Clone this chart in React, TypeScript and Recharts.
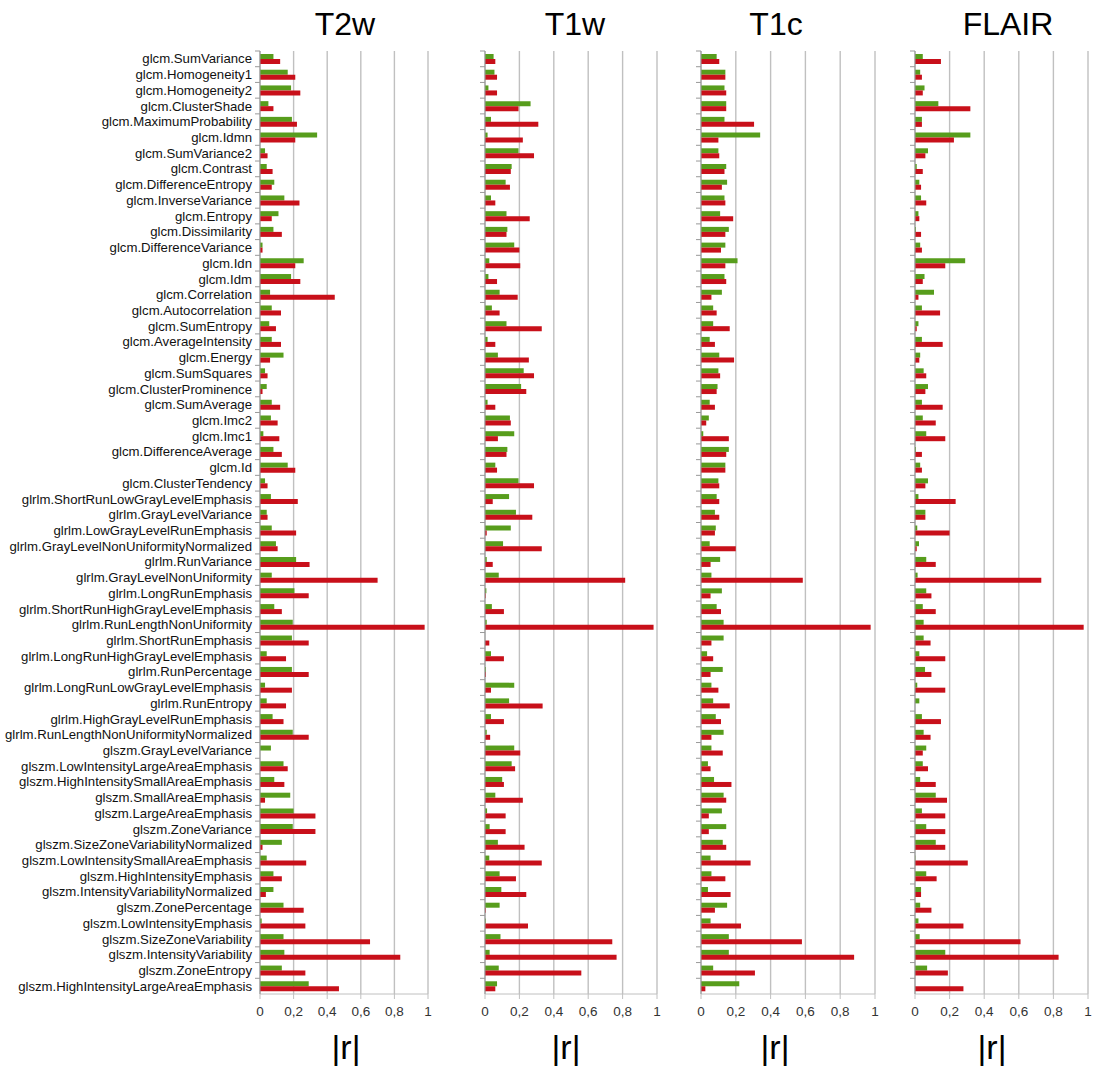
import { BarChart, Bar, XAxis, YAxis, CartesianGrid } from "recharts";

const categories = [
  "glcm.SumVariance", "glcm.Homogeneity1", "glcm.Homogeneity2", "glcm.ClusterShade",
  "glcm.MaximumProbability", "glcm.Idmn", "glcm.SumVariance2", "glcm.Contrast",
  "glcm.DifferenceEntropy", "glcm.InverseVariance", "glcm.Entropy", "glcm.Dissimilarity",
  "glcm.DifferenceVariance", "glcm.Idn", "glcm.Idm", "glcm.Correlation",
  "glcm.Autocorrelation", "glcm.SumEntropy", "glcm.AverageIntensity", "glcm.Energy",
  "glcm.SumSquares", "glcm.ClusterProminence", "glcm.SumAverage", "glcm.Imc2",
  "glcm.Imc1", "glcm.DifferenceAverage", "glcm.Id", "glcm.ClusterTendency",
  "glrlm.ShortRunLowGrayLevelEmphasis", "glrlm.GrayLevelVariance", "glrlm.LowGrayLevelRunEmphasis",
  "glrlm.GrayLevelNonUniformityNormalized", "glrlm.RunVariance", "glrlm.GrayLevelNonUniformity",
  "glrlm.LongRunEmphasis", "glrlm.ShortRunHighGrayLevelEmphasis", "glrlm.RunLengthNonUniformity",
  "glrlm.ShortRunEmphasis", "glrlm.LongRunHighGrayLevelEmphasis", "glrlm.RunPercentage",
  "glrlm.LongRunLowGrayLevelEmphasis", "glrlm.RunEntropy", "glrlm.HighGrayLevelRunEmphasis",
  "glrlm.RunLengthNonUniformityNormalized", "glszm.GrayLevelVariance", "glszm.LowIntensityLargeAreaEmphasis",
  "glszm.HighIntensitySmallAreaEmphasis", "glszm.SmallAreaEmphasis", "glszm.LargeAreaEmphasis",
  "glszm.ZoneVariance", "glszm.SizeZoneVariabilityNormalized", "glszm.LowIntensitySmallAreaEmphasis",
  "glszm.HighIntensityEmphasis", "glszm.IntensityVariabilityNormalized", "glszm.ZonePercentage",
  "glszm.LowIntensityEmphasis", "glszm.SizeZoneVariability", "glszm.IntensityVariability",
  "glszm.ZoneEntropy", "glszm.HighIntensityLargeAreaEmphasis",
];

const t2wGreen = [
  0.08, 0.165, 0.185, 0.05, 0.19, 0.34, 0.03, 0.04, 0.085, 0.145, 0.11, 0.08, 0.015, 0.26, 0.185, 0.06, 0.07, 0.055, 0.07, 0.14,
  0.03, 0.04, 0.07, 0.065, 0.02, 0.08, 0.165, 0.03, 0.065, 0.04, 0.07, 0.095, 0.215, 0.07, 0.205, 0.085, 0.195, 0.19, 0.04, 0.19,
  0.03, 0.04, 0.075, 0.195, 0.065, 0.14, 0.085, 0.18, 0.2, 0.195, 0.13, 0.04, 0.08, 0.08, 0.14, 0.01, 0.14, 0.145, 0.13, 0.29,
];
const t2wRed = [
  0.12, 0.21, 0.24, 0.08, 0.22, 0.21, 0.045, 0.075, 0.07, 0.235, 0.07, 0.13, 0.015, 0.21, 0.24, 0.445, 0.125, 0.095, 0.125, 0.06,
  0.045, 0.015, 0.12, 0.105, 0.115, 0.13, 0.21, 0.045, 0.225, 0.045, 0.215, 0.105, 0.295, 0.7, 0.29, 0.13, 0.98, 0.29, 0.155, 0.29,
  0.19, 0.155, 0.14, 0.29, 0, 0.165, 0.145, 0.03, 0.33, 0.33, 0.015, 0.275, 0.13, 0.035, 0.26, 0.27, 0.655, 0.835, 0.27, 0.47,
];

const t1wGreen = [
  0.05, 0.055, 0.02, 0.265, 0.035, 0.015, 0.195, 0.155, 0.12, 0.035, 0.125, 0.13, 0.17, 0.025, 0.02, 0.085, 0.04, 0.125, 0.015, 0.075,
  0.225, 0.21, 0.015, 0.145, 0.17, 0.13, 0.06, 0.195, 0.14, 0.18, 0.15, 0.105, 0.01, 0.08, 0.008, 0.04, 0.01, 0, 0.035, 0.005,
  0.17, 0.14, 0.035, 0.01, 0.17, 0.155, 0.1, 0.06, 0.012, 0.027, 0.075, 0.025, 0.085, 0.095, 0.085, 0.004, 0.09, 0.027, 0.08, 0.07,
];
const t1wRed = [
  0.06, 0.07, 0.07, 0.195, 0.31, 0.22, 0.285, 0.15, 0.145, 0.06, 0.26, 0.125, 0.2, 0.205, 0.07, 0.19, 0.085, 0.33, 0.06, 0.255,
  0.285, 0.24, 0.06, 0.15, 0.075, 0.125, 0.07, 0.285, 0.045, 0.275, 0.01, 0.33, 0.045, 0.815, 0.004, 0.11, 0.98, 0.025, 0.11, 0.005,
  0.035, 0.335, 0.11, 0.03, 0.205, 0.175, 0.11, 0.22, 0.12, 0.12, 0.23, 0.33, 0.18, 0.24, 0.004, 0.25, 0.74, 0.765, 0.56, 0.06,
];

const t1cGreen = [
  0.09, 0.14, 0.135, 0.145, 0.135, 0.34, 0.1, 0.145, 0.15, 0.135, 0.11, 0.16, 0.14, 0.21, 0.135, 0.12, 0.07, 0.07, 0.05, 0.105,
  0.1, 0.095, 0.05, 0.045, 0.013, 0.16, 0.14, 0.1, 0.09, 0.08, 0.085, 0.05, 0.11, 0.06, 0.12, 0.09, 0.13, 0.13, 0.035, 0.125,
  0.06, 0.07, 0.085, 0.13, 0.06, 0.04, 0.075, 0.13, 0.12, 0.145, 0.125, 0.055, 0.06, 0.04, 0.15, 0.055, 0.16, 0.16, 0.07, 0.22,
];
const t1cRed = [
  0.105, 0.14, 0.145, 0.145, 0.305, 0.1, 0.105, 0.135, 0.12, 0.14, 0.185, 0.14, 0.115, 0.14, 0.145, 0.06, 0.09, 0.165, 0.08, 0.19,
  0.11, 0.09, 0.08, 0.03, 0.16, 0.145, 0.14, 0.105, 0.105, 0.105, 0.08, 0.2, 0.055, 0.585, 0.055, 0.115, 0.975, 0.06, 0.07, 0.055,
  0.1, 0.165, 0.115, 0.06, 0.125, 0.055, 0.175, 0.145, 0.045, 0.045, 0.145, 0.285, 0.14, 0.17, 0.08, 0.23, 0.58, 0.88, 0.31, 0.025,
];

const flairGreen = [
  0.045, 0.03, 0.055, 0.135, 0.04, 0.32, 0.075, 0.01, 0.025, 0.035, 0.02, 0.005, 0.03, 0.29, 0.055, 0.11, 0.04, 0.02, 0.04, 0.03,
  0.05, 0.075, 0.04, 0.045, 0.065, 0.005, 0.03, 0.075, 0.02, 0.06, 0.013, 0.023, 0.065, 0.015, 0.065, 0.045, 0.05, 0.05, 0.025, 0.058,
  0.013, 0.025, 0.04, 0.05, 0.065, 0.045, 0.03, 0.12, 0.04, 0.065, 0.12, 0.002, 0.065, 0.035, 0.03, 0.02, 0.027, 0.175, 0.07, 0,
];
const flairRed = [
  0.15, 0.04, 0.045, 0.32, 0.04, 0.225, 0.06, 0.045, 0.035, 0.065, 0.025, 0.035, 0.04, 0.175, 0.045, 0.02, 0.145, 0.01, 0.16, 0.025,
  0.065, 0.06, 0.16, 0.12, 0.175, 0.04, 0.04, 0.06, 0.235, 0.06, 0.2, 0.01, 0.12, 0.73, 0.095, 0.12, 0.975, 0.09, 0.175, 0.095,
  0.175, 0, 0.15, 0.09, 0.045, 0.075, 0.12, 0.185, 0.175, 0.175, 0.175, 0.305, 0.125, 0.035, 0.095, 0.28, 0.61, 0.83, 0.19, 0.28,
];

const xTicks = [0, 0.2, 0.4, 0.6, 0.8, 1];

const GREEN = "#579d1c";
const RED = "#c8101a";
const GRID = "#c0c0c0";
const FONT = "'Liberation Sans', Arial, sans-serif";

const CHART_H = 1071;
const PLOT_TOP = 51;
const PLOT_BOTTOM = 994;
const BAND = (PLOT_BOTTOM - PLOT_TOP) / categories.length;

const fmt = (v: number) => String(v).replace(".", ",");

// category ticks: small mark on the boundary above each band, label only on first panel
function makeTick(showLabel: boolean) {
  return (props: any) => {
    const { x, y, payload } = props;
    const yb = y - BAND / 2;
    return (
      <g>
        <line x1={x + 3} x2={x + 8} y1={yb} y2={yb} stroke="#999" strokeWidth={1} />
        {showLabel && (
          <text x={x} y={y} dy="0.35em" textAnchor="end" fontSize={13.2} fill="#111" fontFamily={FONT}>
            {payload.value}
          </text>
        )}
      </g>
    );
  };
}

type PanelProps = {
  title: string;
  green: number[];
  red: number[];
  left: number;
  width: number;
  yWidth: number;
  right: number;
  showLabels: boolean;
  titleX: number;
  rX: number;
};

function Panel({ title, green, red, left, width, yWidth, right, showLabels, titleX, rX }: PanelProps) {
  const data = categories.map((name, i) => ({ name, g: green[i], r: red[i] }));
  return (
    <>
      <div
        style={{
          position: "absolute",
          left: titleX - 80,
          width: 160,
          top: 6,
          textAlign: "center",
          fontSize: 32,
          fontFamily: FONT,
          color: "#000",
        }}
      >
        {title}
      </div>
      <div style={{ position: "absolute", left, top: 0 }}>
        <BarChart
          width={width}
          height={CHART_H}
          data={data}
          layout="vertical"
          barGap={0}
          margin={{ top: PLOT_TOP, right, bottom: CHART_H - PLOT_BOTTOM - 30, left: 0 }}
        >
          <CartesianGrid horizontal={false} stroke={GRID} strokeWidth={1.4} />
          <XAxis
            type="number"
            domain={[0, 1]}
            ticks={xTicks}
            tickFormatter={fmt}
            height={30}
            tickSize={5}
            tickMargin={7}
            stroke={GRID}
            tick={{ fill: "#333", fontSize: 13.5, fontFamily: FONT }}
            interval={0}
          />
          <XAxis
            xAxisId="top"
            orientation="top"
            type="number"
            domain={[0, 1]}
            height={0}
            tick={false}
            tickLine={false}
            stroke={GRID}
          />
          <YAxis
            type="category"
            dataKey="name"
            width={yWidth}
            interval={0}
            tickLine={false}
            tickSize={5}
            tickMargin={3}
            stroke="#999"
            tick={makeTick(showLabels)}
          />
          <Bar dataKey="g" fill={GREEN} barSize={5} isAnimationActive={false} />
          <Bar dataKey="r" fill={RED} barSize={5} isAnimationActive={false} />
        </BarChart>
      </div>
      <div
        style={{
          position: "absolute",
          left: rX - 40,
          width: 80,
          top: 1028,
          textAlign: "center",
          fontSize: 34,
          fontFamily: FONT,
          color: "#000",
        }}
      >
        |r|
      </div>
    </>
  );
}

export default function App() {
  return (
    <div
      style={{
        position: "absolute",
        left: 0,
        top: 0,
        width: 1094,
        height: 1071,
        overflow: "hidden",
        background: "#fff",
        fontFamily: FONT,
      }}
    >
      <Panel title="T2w" green={t2wGreen} red={t2wRed} left={0} width={440} yWidth={260} right={12} showLabels titleX={345} rX={346} />
      <Panel title="T1w" green={t1wGreen} red={t1wRed} left={475} width={194} yWidth={10} right={12} showLabels={false} titleX={575} rX={566} />
      <Panel title="T1c" green={t1cGreen} red={t1cRed} left={691} width={196} yWidth={10} right={12} showLabels={false} titleX={776} rX={775} />
      <Panel title="FLAIR" green={flairGreen} red={flairRed} left={905} width={189} yWidth={10} right={6} showLabels={false} titleX={1008} rX={992} />
    </div>
  );
}
